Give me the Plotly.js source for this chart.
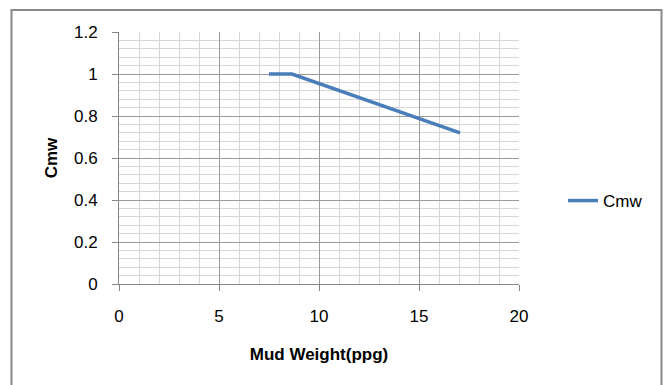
<!DOCTYPE html>
<html>
<head>
<meta charset="utf-8">
<script src="https://cdn.plot.ly/plotly-3.0.1.min.js"></script>
<style>
  html, body { margin: 0; padding: 0; background: #ffffff; }
  #chart { width: 664px; height: 385px; }
</style>
</head>
<body>
<div id="chart"></div>
<script>
// Data
const mudWeight = [7.5, 8.65, 17.05];
const cmw = [1.0, 1.0, 0.72];
const seriesName = 'Cmw';
const xTitle = 'Mud Weight(ppg)';
const yTitle = 'Cmw';
const xTickVals = [0, 5, 10, 15, 20];
const yTickVals = [0, 0.2, 0.4, 0.6, 0.8, 1.0, 1.2];
const yTickText = ['0', '0.2', '0.4', '0.6', '0.8', '1', '1.2'];

const W = 664, H = 385;
const L = 119, R = 519, T = 32, B = 284;
const px = x => (x - L) / (R - L);
const py = y => (B - y) / (B - T);

const trace = {
  x: mudWeight,
  y: cmw,
  type: 'scatter',
  mode: 'lines',
  name: seriesName,
  line: { color: '#4A7EBB', width: 3.5 },
  hoverinfo: 'skip'
};

const font = { family: 'Liberation Sans, Arial, sans-serif', size: 17, color: '#000000' };

const layout = {
  width: W,
  height: H,
  margin: { l: L, r: W - R, t: T, b: H - B, pad: 0 },
  paper_bgcolor: '#ffffff',
  plot_bgcolor: '#ffffff',
  font: font,
  showlegend: true,
  legend: {
    x: px(563), xanchor: 'left',
    y: py(201), yanchor: 'middle',
    font: font,
    bgcolor: 'rgba(0,0,0,0)',
    borderwidth: 0
  },
  xaxis: {
    range: [0, 20],
    tickvals: xTickVals,
    ticktext: xTickVals.map(String),
    ticks: 'outside',
    ticklen: 6,
    tickwidth: 1,
    tickcolor: '#868686',
    ticklabelstandoff: 11,
    showline: true,
    linecolor: '#868686',
    linewidth: 1,
    showgrid: true,
    gridcolor: '#9a9a9a',
    gridwidth: 1,
    zeroline: false,
    minor: { dtick: 1, showgrid: true, gridcolor: '#d6d6d6', gridwidth: 1, ticks: '' },
    tickfont: font,
    title: { text: xTitle, font: { family: font.family, size: 17, color: '#000', weight: 'bold' }, standoff: 22 },
    fixedrange: true
  },
  yaxis: {
    range: [0, 1.2],
    tickvals: yTickVals,
    ticktext: yTickText,
    ticks: 'outside',
    ticklen: 6,
    tickwidth: 1,
    tickcolor: '#868686',
    ticklabelstandoff: 11,
    showline: true,
    linecolor: '#868686',
    linewidth: 1,
    showgrid: true,
    gridcolor: '#9a9a9a',
    gridwidth: 1,
    zeroline: false,
    minor: { dtick: 0.04, showgrid: true, gridcolor: '#d6d6d6', gridwidth: 1, ticks: '' },
    tickfont: font,
    title: { text: yTitle, font: { family: font.family, size: 17, color: '#000', weight: 'bold' }, standoff: 12 },
    fixedrange: true
  },
  shapes: [
    {
      type: 'rect', xref: 'paper', yref: 'paper', layer: 'below',
      x0: px(11.5), x1: px(661.5), y0: py(400), y1: py(10),
      line: { color: '#888888', width: 2 },
      fillcolor: 'rgba(0,0,0,0)'
    }
  ]
};

Plotly.newPlot('chart', [trace], layout, { displayModeBar: false, staticPlot: true });
</script>
</body>
</html>
